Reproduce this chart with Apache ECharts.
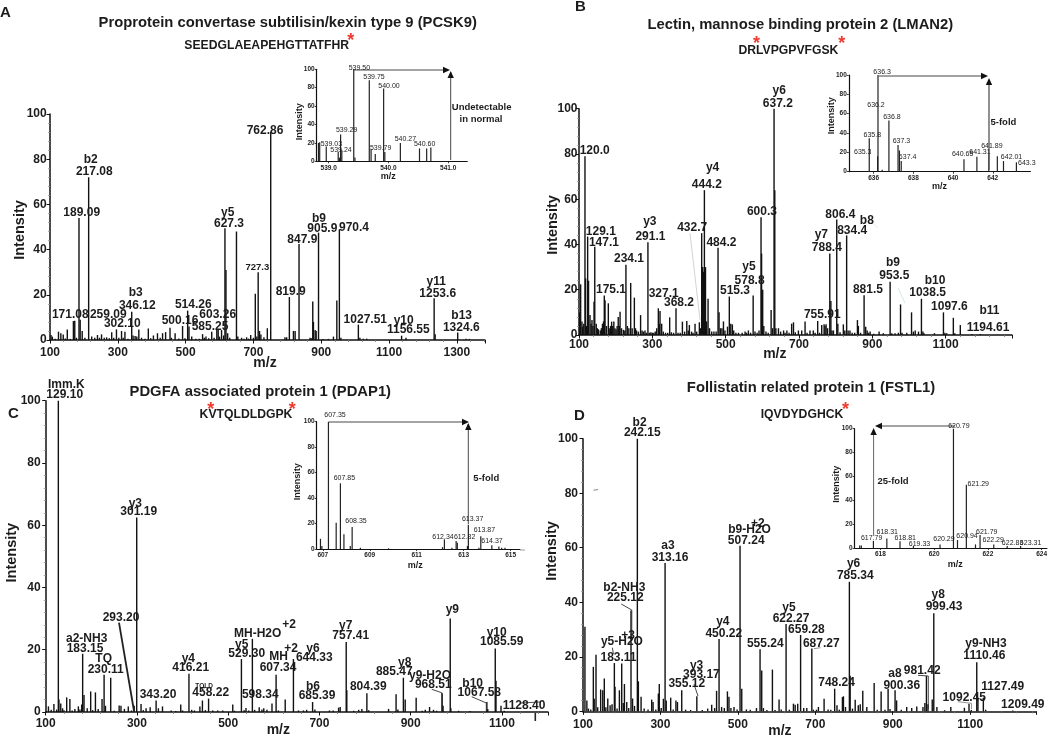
<!DOCTYPE html>
<html><head><meta charset="utf-8">
<style>html,body{margin:0;padding:0;background:#fff}#c{width:1050px;height:736px}</style>
<script src="https://cdn.jsdelivr.net/npm/echarts@6/dist/echarts.min.js"></script>
</head><body><div id="c"></div>
<script>
// ---------- spectra data: [m/z, relative intensity] ----------
const peaksA=[[103,2.2],[107,1.5],[115,.6],[125,3.7],[132,3],[139,2.4],[145,.7],[151,4.7],[160,.5],[169,8.4],[173,8.5],[178,1],[185.5,54],[189,9],[195,4],[203,1],[214,72],[223,1.5],[232,1],[240,2.2],[246,1],[252,2.5],[260,1],[267,1.2],[275,.8],[282,3.4],[288,1],[296,4.7],[303,1],[311,4],[316,1],[321,3.7],[330,.6],[341,12.5],[345,2],[351,1.8],[356,1.6],[362,4.7],[370,1],[380,.6],[390,5.1],[397,.8],[405,2],[417,3],[425,1],[432,3],[441,3.5],[454,5.4],[458,1],[469,3],[480,.7],[491,6.2],[498,.8],[506,13],[510,6],[518,1.5],[530,.5],[540,.5],[550,2.6],[555,1],[560,1.5],[568,.8],[577,3.7],[584,1],[592,4.4],[596,4.4],[600,1.5],[606,4.4],[612,2],[616,49.5],[619,31],[624,3],[630,1],[650,48],[654,1.5],[665,1],[672,.6],[680,1.2],[686,.6],[692,2.2],[700,1],[705.5,20.5],[710,1.5],[714,30],[718,4],[722,2.4],[731,1.2],[741,5.2],[751,92],[793,1.2],[798,1.2],[806,19],[818,4],[823,4],[834.5,42.5],[867,1],[871,.8],[875,17],[877,8],[882,4.4],[885,4],[892,47.5],[905,.4],[921,.5],[936,1.5],[946,17.5],[953.5,49],[958,1],[1009.5,6.8],[1014,1],[1024,.5],[1034,.6],[1137,1.9],[1150,1],[1233,18.5],[1236,2.5],[1302.5,3.3],[1327,.5],[1337,.5]];
const peaksB=[[102,10],[104.5,22.4],[108,6],[110,3.7],[113,5],[116.3,79],[118,25],[121,4],[123.6,43.5],[126,24],[130,8.8],[133,5],[135.4,6.6],[138,4],[141,14.7],[143,39],[147,5],[150,3],[153,2.5],[158,2],[161,3],[164,5],[167,6],[169,17.4],[171,15.4],[175,4],[180,14],[184,3],[186,4],[189,5.9],[192,4],[195,6],[198,3],[201,2.5],[204,4],[207,8],[210,4],[212,10.3],[216,3],[221,2.3],[225,2],[228,31],[232,4],[236,3],[241,23],[245,3],[251,16.5],[254,3],[257,2],[262,1.5],[268,8.8],[272,2],[276,1.5],[280,2],[284,1],[288,41],[292,1],[296,1.2],[300,1],[304,1],[308,1.5],[312,3],[316.4,11.8],[319,5],[321,10.6],[325.5,5],[330,1.5],[336,1],[342,1],[347.3,7.8],[352,1.2],[358,1],[364.6,11.8],[370,1],[376,1],[382,5.9],[388,1.5],[394,6.2],[398,2],[401,4.4],[407,1.5],[411,1],[416.5,5],[421,1.5],[428.3,5.6],[431,3],[434.6,45],[437.4,30],[439,28],[442,64],[445,30],[448,6],[452,16],[456,3],[462,1.5],[468,1.5],[474,1.5],[479.2,38.5],[482,10],[486,3],[490,3],[494,6],[498,2],[505,3.7],[510,17],[514,5],[518.3,4.7],[522,2],[528,1],[535,1],[545,1],[553,1.5],[557,1],[562,2],[568,1],[575,17.4],[580,1.5],[586,1],[591,2],[596.5,52],[598,36],[601,20],[604,4],[610,1.5],[616,1],[624,11],[628,3],[632,100],[634,64],[637,3],[644,3],[650,1.5],[658,2],[662,1],[667,2],[673,1],[680,5],[685,5.6],[690,1.2],[698.4,2],[707.5,2],[716.6,6],[722,1],[730,2],[739,2],[744,1],[751,6.2],[756,1],[762,4.4],[768.5,4.7],[771,4],[774,4.7],[778,3],[784,36],[787,15],[790,2],[794,2],[803,51],[806,5],[812,1.2],[821,4.7],[825,2],[830,44],[834,2],[839,2],[845,1],[852,1],[859.4,6.6],[862,4],[868,1],[877.6,17.6],[882,3.7],[886,2],[890,1],[894,1.5],[904,.5],[918.5,1.5],[930,.8],[948.6,23.5],[953,.8],[962,.8],[971,1],[977,13.5],[981,1],[994,1],[1007,10],[1012,1.5],[1017,2],[1026,1.5],[1034,16],[1038,1.5],[1041,.8],[1069.5,.8],[1094,10],[1098,1],[1103,.8],[1121,7.6],[1125,.8],[1140,4.4],[1171,.4],[1194,.4]];
const peaksC=[[106,1.8],[112,.7],[118,2.6],[124,.8],[127.7,100],[129,4],[133,2.7],[137,1.2],[140,.6],[146,4.7],[153,4.2],[158,.5],[164,1],[171.6,1.8],[175,.8],[179,2.4],[181,18.7],[184,5.5],[191,1.2],[198.6,6.6],[203,.6],[209,6.3],[215,1],[223.5,4.2],[228,12],[231,2],[242.5,11],[250,.4],[261,2.1],[265,2],[272.5,1],[281,1.8],[288,.5],[294,2],[299.5,62.5],[309,2.6],[314,.6],[320,1.2],[329,1.5],[342,3.7],[347,1.2],[356,1.8],[375,.5],[385,.3],[396,2.4],[400,.5],[414,12.3],[420,.7],[426,.5],[438,1.8],[443.5,3.7],[450,.6],[457,4.3],[466,.5],[477,.5],[488,.5],[510,2.4],[514,.4],[529,17],[535,.6],[539,1.3],[545,.5],[553,23.5],[558,.7],[568,1.5],[574,.8],[578,1.2],[585,.7],[596,2.7],[605,12],[610,.5],[625,4],[643,17],[654,.5],[665,.5],[672,.7],[685,3.2],[690,.8],[722,.5],[730,.5],[742,1.4],[745.5,1.6],[758.7,22.5],[760,7],[775,.4],[786,.7],[793,1],[804,6],[808,.6],[851.5,1],[868,5.7],[872,.8],[884,11],[888,4],[912,4.6],[925,.4],[932,.7],[941.4,1.6],[950,.7],[957,.4],[969,6],[971,2],[986.7,30],[988,1.2],[1005,.4],[1030,.3],[1067,3.2],[1069,1],[1085.4,20.4],[1087,10],[1098,2],[1105,.4]];
const peaksD=[[105,31],[110,4],[114,1],[120,.7],[126.7,16.3],[129,4.6],[133.6,20.7],[138,1.5],[145.6,8],[151,7.7],[155,12],[159,1.5],[164,4.7],[170,2.2],[175,2.6],[181,17.7],[182.7,9],[188,1],[194,7.7],[200,17.5],[204,3],[207,10],[213,3.4],[218,1.2],[224,37],[228,4.7],[233,2],[240.4,100],[243,11],[250,5.3],[258,1],[268,.7],[277.4,4.3],[281,3.4],[288,.7],[294.6,6.5],[297,10],[302,1.2],[307.6,4.6],[312,54.4],[315,4],[326.5,5],[333,.7],[340,4],[344,3.4],[355,7.7],[365,.6],[378,.5],[394,5.5],[408,.5],[422,1],[432.4,2.4],[440,1.2],[445,7.5],[451.4,26.5],[458,1.6],[465,1.2],[473,7.3],[477,5.3],[482,1.2],[490,1.6],[498,.7],[505.6,60.7],[510,8.3],[522,.7],[532,.6],[548,1.2],[557.3,22.8],[561.6,15],[566,1.2],[575,.5],[589.2,15.3],[596,.5],[606.4,4.3],[612,.7],[624.5,32],[633,.6],[643.5,2.8],[648,2.4],[654.6,2.8],[662,28],[670,1.2],[678,1.2],[691,23],[695,.6],[703,.6],[708,1.6],[722.7,4.6],[733,.7],[740,.6],[750,8.3],[756,2.2],[762,.6],[770,5.2],[772.7,5.5],[778,1.6],[788,47.5],[790,13],[796,1],[803,4.2],[811,2.2],[816,2.6],[822.6,7.5],[833,1.6],[852,10.4],[860,.6],[870,7.3],[880,.6],[888,8.3],[893,.8],[906,7.7],[910,4],[922,.6],[936,1.6],[949,1.2],[962,1.8],[978,1.6],[983,3],[987,13],[991,2.6],[1002,4.3],[1006,36],[1014,1.6],[1034,.4],[1050,1.6],[1085,1.3],[1097,2.8],[1103,.5],[1117,18],[1120,5],[1134,5],[1140,.6],[1210,.3]];
const insetA=[[538.83,20],[538.85,20.6],[538.96,16],[539.16,10],[539.18,4],[539.2,29],[539.22,12],[539.42,100],[539.44,4],[539.68,88],[539.71,13],[539.78,8],[539.92,79],[539.94,10],[540.2,20],[540.52,14],[540.64,14],[540.71,15]];
const insetB=[[635.78,34.5],[636.22,100],[636.2,16],[636.43,2],[636.77,53],[637.23,27.6],[637.3,22],[637.39,11],[640.55,12.8],[641.2,15.5],[641.8,18],[642.23,16],[642.54,11],[643.19,9.7]];
const insetC=[[606.9,8],[606.96,2.4],[607.24,100],[607.57,20.7],[607.75,51.6],[607.9,11.5],[608.17,2.4],[608.25,17.3],[608.6,1],[609.8,.5],[612.1,1.5],[612.18,7.6],[612.5,1],[612.68,6.3],[612.73,5],[613.16,2.4],[613.2,19],[613.65,1],[613.73,10],[614.2,3],[614.5,2],[614.62,1],[614.76,1]];
const insetD=[[617.23,2],[617.29,2.2],[617.74,6],[618.24,8],[618.73,5.6],[619.23,1.7],[620.22,3],[620.72,100],[620.87,6.7],[621.2,53],[621.54,3],[621.71,11],[622.22,3],[622.72,1.7],[623.22,1.7]];
// ---------- texts ----------
const titles=["Proprotein convertase subtilisin/kexin type 9 (PCSK9)","Lectin, mannose binding protein 2 (LMAN2)","PDGFA associated protein 1 (PDAP1)","Follistatin related protein 1 (FSTL1)"];
const sequences=["SEEDGLAEAPEHGTTATFHR","DRLVPGPVFGSK","KVTQLDLDGPK","IQVDYDGHCK"];
const panelLetters=["A","B","C","D"];
const insetTicksA=[539,540,541], insetTicksB=[636,638,640,642,644], insetTicksC=[607,609,611,613,615], insetTicksD=[618,620,622,624];
const insetTickFmt=[v=>v.toFixed(1),v=>String(v),v=>String(v),v=>String(v)];
// ---------- layout tables (pixels) ----------
const mainGrids=[{l:50,r:485,t:114,b:340,max:1383,mx:6.7,my:3.3},{l:579,r:1012,t:108.7,b:335,max:1281,mx:3.5,my:1.5},{l:45.7,r:548,t:400.7,b:712,max:1201,mx:6,my:5},{l:583,r:1036,t:438.7,b:711.3,max:1270,mx:7.7,my:5}];
const insetGrids=[{l:316.7,r:467.3,t:69.3,b:161.3,min:538.8,max:541.32,ticks:insetTicksA},{l:848.8,r:1030.5,t:75,b:171.7,min:634.75,max:643.9,ticks:insetTicksB},{l:316.7,r:520,t:421.7,b:549,min:606.74,max:615.4,ticks:insetTicksC},{l:854.6,r:1050,t:428.7,b:548,min:617.04,max:624.2,ticks:insetTicksD}];
const sz=[peaksA,peaksB,peaksC,peaksD], ins=[insetA,insetB,insetC,insetD];
const L=12, S=7, M=9.5;
const mainLabels=[
['b2',90.7,160],['217.08',94.3,171.3],['189.09',81.7,212.3],['762.86',265,131],['y5',227.7,212.3],['627.3',229,223.3],['b9',319,219],['905.9',322.3,228.7],['970.4',354,228],['847.9',302.3,240],['819.9',290.7,291.7],['y11',436.3,282],['1253.6',437.7,293.3],['b3',135.7,292.7],['346.12',137.3,305.7],['514.26',193.3,305],['603.26',217.7,315],['171.08',70.3,315],['259.09',108.3,315],['302.10',122.3,323.7],['500.16',180,320.7],['585.25',210,326.7],['1027.51',365.3,319.3],['y10',403.7,321],['1156.55',408.3,330],['b13',461.7,315.7],['1324.6',461.3,327.3],
['y6',779.2,90.7],['637.2',777.8,103.7],['120.0',594.7,150.7],['y4',712.6,168],['444.2',706.8,185],['600.3',761.9,211.7],['806.4',840.3,215],['b8',866.8,220.3],['834.4',852.2,230.7],['y7',821.3,234.7],['788.4',826.8,247.3],['129.1',600.8,231.3],['147.1',603.9,242.3],['y3',649.8,221.7],['291.1',650.4,236.7],['432.7',692.2,227.3],['484.2',721.4,243],['234.1',629,259],['y5',749,267],['578.8',749.6,280.3],['515.3',735,290.3],['175.1',611,290],['327.1',663.7,293.7],['368.2',679,302.7],['b9',893,262.3],['953.5',894.3,275.7],['881.5',867.9,290],['b10',935,281],['1038.5',927.6,293],['1097.6',949.4,306.3],['b11',989.5,311],['1194.61',988,327.7],['755.91',822.3,315],
['Imm.K',66.3,385],['129.10',64.7,395],['y3',135.3,503.3],['301.19',138.7,512],['293.20',121,617.7],['y9',452.3,609.3],['+2',289,624.3],['MH-H2O',257.7,633.7],['y7',345.7,625.7],['757.41',350.7,635.3],['y10',496.7,632.7],['1085.59',501.7,642],['a2-NH3',86.7,638.3],['183.15',85,649],['TQ',103.7,658.3],['230.11',105.7,669.3],['y5',241.7,644.3],['529.30',246.7,653.3],['+2',291,648.7],['MH',278.7,657],['y6',313,649],['644.33',314.3,658],['607.34',278,668],['y4',188.3,658.7],['416.21',190.7,667.7],['y8',404.7,662.3],['885.47',394.3,671.7],['y9-H2O',430,676],['968.51',433.3,685],['b10',472.7,683.3],['1067.58',479.3,692.3],['458.22',210.7,692.7],['343.20',158,694.3],['598.34',260.3,695],['b6',313,686.3],['685.39',317,695.3],['804.39',368.3,687],['1128.40',524,705.3],
['b2',639.6,423],['242.15',642.3,432.7],['a3',668,545.7],['313.16',670,557.3],['+2',757.8,523.3],['b9-H2O',749.6,529.7],['507.24',746.2,540.7],['y6',853.6,563.3],['785.34',855.3,575.7],['y8',938.2,594.3],['999.43',944,606.3],['b2-NH3',624.3,587.7],['225.12',625.3,597.7],['y5',789,607.7],['622.27',791,618.7],['659.28',806.4,629.3],['y4',722.8,622],['450.22',723.8,633.3],['+3',628,636],['y5-H2O',621.9,642],['687.27',821.3,643.3],['555.24',765.3,643.7],['y9-NH3',986,643.7],['1110.46',984.4,656],['183.11',618.5,657.3],['y3',696.6,666],['393.17',701.4,675],['355.12',686.8,684],['748.24',836.6,682.7],['a8',895,673.3],['981.42',922.2,670.7],['900.36',901.8,686],['1127.49',1002.7,686.3],['1092.45',964.3,697.7],['1209.49',1022.8,704.7]];
const smallLabels=[['727.3',257.3,267.3,9.5],['TQLD',204,686,6.5]];
const insetLabelsA=[['539.50',1078,203],['539.75',1122,230],['540.00',1167,257],['539.29',1040,391],['539.03',994,431],['539.24',1023,450],['539.79',1142,445],['540.27',1216,416],['540.60',1274,432]];
const insetLabelsB=[['636.3',1066,217],['636.2',1048,316],['636.8',1095,350],['635.8',1037,406],['637.3',1123,424],['635.3',1009,456],['637.4',1141,472],['640.65',1303,462],['641.31',1354,456],['641.89',1389,438],['642.01',1447,470],['643.3',1492,490]];
const insetLabelsC=[['607.35',1005,148],['607.85',1033,335],['608.35',1068,465],['613.37',1418,459],['613.87',1453,491],['612.34',1329,514],['612.82',1394,514],['614.37',1476,526]];
const insetLabelsD=[['620.79',1292,181],['621.29',1349,355],['617.79',1035,516],['618.31',1081,499],['618.81',1134,517],['619.33',1176,533],['620.29',1248,519],['620.94',1316,510],['621.79',1374,497],['622.29',1393,523],['622.83',1450,531],['623.31',1503,530]];
const px={A:(x,y)=>[x/3,y/3],B:(x,y)=>[520+.3397*x,y/3],C:(x,y)=>[x/3,366+y/3],D:(x,y)=>[520+.3397*x,366+y/3]};
// ---------- build ----------
const grid=[],xAxis=[],yAxis=[],series=[],graphic=[];
const TXT='#1c1c1c',FONT='"Liberation Sans",Arial,sans-serif';
function text(t,x,y,size,opt){opt=opt||{};graphic.push({type:'text',x:x,y:y,z:20,silent:true,rotation:opt.rot||0,style:{text:t,fill:opt.fill||TXT,fontSize:size,fontWeight:opt.w||'bold',fontFamily:FONT,align:'center',verticalAlign:'middle'}})}
function line(pts,w,color){graphic.push({type:'polyline',z:15,silent:true,shape:{points:pts},style:{stroke:color||'#222',lineWidth:w||1,fill:null}})}
function arrow(x,y,dx,dy){const s=3.2,n=7;graphic.push({type:'polygon',z:16,silent:true,shape:{points:dx?[[x,y],[x-dx*n,y-s],[x-dx*n,y+s]]:[[x,y],[x-s,y-dy*n],[x+s,y-dy*n]]},style:{fill:'#111'}})}
function addPanel(g,data,isInset,i){
 const idx=grid.length;
 grid.push({left:g.l,top:g.t,width:g.r-g.l,height:g.b-g.t,containLabel:false});
 const axisCol='#111';
 if(!isInset){
  xAxis.push({type:'value',gridIndex:idx,min:100,max:g.max,interval:200,splitLine:{show:false},
   axisLine:{onZero:false,lineStyle:{color:axisCol,width:1.5}},axisTick:{length:3.5,lineStyle:{color:axisCol,width:1}},
   minorTick:{show:true,splitNumber:5,length:2,lineStyle:{color:'#777',width:.8}},
   axisLabel:{color:TXT,fontFamily:FONT,fontWeight:'bold',fontSize:L,margin:g.mx,showMaxLabel:false,showMinLabel:true,formatter:v=>String(v)}});
  yAxis.push({type:'value',gridIndex:idx,min:0,max:100,interval:20,splitLine:{show:false},
   axisLine:{onZero:false,lineStyle:{color:axisCol,width:1.5}},axisTick:{length:3.5,lineStyle:{color:axisCol,width:1}},
   minorTick:{show:true,splitNumber:5,length:2,lineStyle:{color:'#999',width:.8}},
   axisLabel:{color:TXT,fontFamily:FONT,fontWeight:'bold',fontSize:L,margin:g.my}});
  series.push({type:'bar',xAxisIndex:idx,yAxisIndex:idx,data:data,barWidth:1.4,silent:true,animation:false,itemStyle:{color:'#111'}});
 }else{
  xAxis.push({type:'value',gridIndex:idx,min:g.min,max:g.max,splitLine:{show:false},
   axisLine:{onZero:false,lineStyle:{color:axisCol,width:1}},axisTick:{customValues:g.ticks,length:2,lineStyle:{color:axisCol,width:.8}},
   axisLabel:{customValues:g.ticks,formatter:insetTickFmt[i],color:TXT,fontFamily:FONT,fontWeight:'bold',fontSize:6.5,margin:3}});
  yAxis.push({type:'value',gridIndex:idx,min:0,max:100,interval:20,splitLine:{show:false},
   axisLine:{onZero:false,lineStyle:{color:axisCol,width:1.2}},axisTick:{length:2,lineStyle:{color:axisCol,width:.8}},
   axisLabel:{color:TXT,fontFamily:FONT,fontWeight:'bold',fontSize:6.5,margin:2}});
  series.push({type:'bar',xAxisIndex:idx,yAxisIndex:idx,data:data,barWidth:1.2,silent:true,animation:false,itemStyle:{color:'#222'}});
 }
}
[0,1,2,3].forEach(i=>{addPanel(mainGrids[i],sz[i],false,i);addPanel(insetGrids[i],ins[i],true,i)});
mainLabels.forEach(a=>text(a[0],a[1],a[2],L));
smallLabels.forEach(a=>text(a[0],a[1],a[2],a[3]));
[[insetLabelsA,'A'],[insetLabelsB,'B'],[insetLabelsC,'C'],[insetLabelsD,'D']].forEach(([ls,k])=>ls.forEach(a=>{const p=px[k](a[1],a[2]);text(a[0],p[0],p[1],S,{w:'normal'})}));
// titles, sequences, letters, axis names
const T=14.8,Q=12.2;
text(titles[0],287.7,23.3,T);text(titles[1],800.3,25,T);text(titles[2],260.3,391.7,T);text(titles[3],811,388.3,T);
text(sequences[0],266.7,45.7,Q);text(sequences[1],788.4,50.7,Q);text(sequences[2],246,414.7,Q);text(sequences[3],802,414.7,Q);
[[350.7,38.5],[756.4,41.5],[841.7,41.5],[210.7,407],[292.3,407],[845.4,407]].forEach(p=>text('*',p[0],p[1]+3,18,{fill:'#ee3a2f'}));
text(panelLetters[0],5.5,13,15);text(panelLetters[1],580.5,7,15);text(panelLetters[2],13.3,414.3,15);text(panelLetters[3],579.4,416,15);
[[20,230],[553.3,225],[11.7,552.7],[551.6,551]].forEach(p=>text('Intensity',p[0],p[1],14.5,{rot:Math.PI/2}));
[[265,363],[774.8,354],[278.3,730],[779.9,731]].forEach(p=>text('m/z',p[0],p[1],14));
[[299.3,121.7],[832,115.7],[298,481.7],[836.3,484.3]].forEach(p=>text('Intensity',p[0],p[1],9,{rot:Math.PI/2}));
[[388.3,176.7],[939.5,186.7],[415.3,566],[955.2,565]].forEach(p=>text('m/z',p[0],p[1],9));
text('Undetectable',481.7,107.3,M);text('in normal',481,119,M);
text('5-fold',1003.4,122,M);text('5-fold',486.3,478.3,M);text('25-fold',893,481,M);
// inset arrows
line([[353.3,70],[447,70]],.9,'#333');arrow(450,70,1,0);line([[450.7,160],[450.7,72]],.9,'#333');arrow(450.7,71,0,-1);
line([[878.7,76],[983,76]],1,'#444');arrow(988,76,1,0);line([[989,170],[989,80]],1.3,'#555');arrow(989,78,0,-1);
line([[329,422],[465,422]],.9,'#333');arrow(469,422,1,0);line([[468.3,524],[468.3,424]],.9,'#333');arrow(468.3,423,0,-1);
line([[955,426],[880,426]],.9,'#333');arrow(875,426,-1,0);line([[873.6,536],[873.6,432]],.9,'#555');arrow(873.6,428,0,-1);
// leader lines
line([[119,622.7],[134,711]],1.8,'#222');
line([[431.7,689.3],[441.7,692.7],[441.7,711]],.9,'#333');
line([[471.7,696.7],[486.3,703],[486.3,711]],.9,'#333');
line([[521,703],[540,702]],1,'#555');
line([[621.2,604],[631.8,610],[631.8,640]],.9,'#333');
line([[612.4,647.7],[613.4,654]],.9,'#333');
line([[694,684.3],[698,696]],.9,'#333');
line([[918,675.3],[928.3,676],[928.3,709]],.9,'#333');
line([[958,701.7],[971.5,703.3],[971.5,709]],.9,'#888');
line([[813.8,648.7],[820.6,647.7]],.9,'#888');
line([[690,233.3],[700,320]],.8,'#c8c8c8');
line([[872.8,222],[877.5,228]],.6,'#cfe5dc');
line([[898,288],[905,303]],.7,'#bfe3d0');
line([[535.3,713],[535.3,721]],1.6,'#222');
line([[593.5,490.2],[598,489.6]],.8,'#666');
line([[520,550],[525,550]],.8,'#888');
const chart=echarts.init(document.getElementById('c'),null,{renderer:'canvas'});
chart.setOption({backgroundColor:'#fff',animation:false,textStyle:{fontFamily:FONT},grid,xAxis,yAxis,series,graphic:{elements:graphic}});
</script></body></html>
